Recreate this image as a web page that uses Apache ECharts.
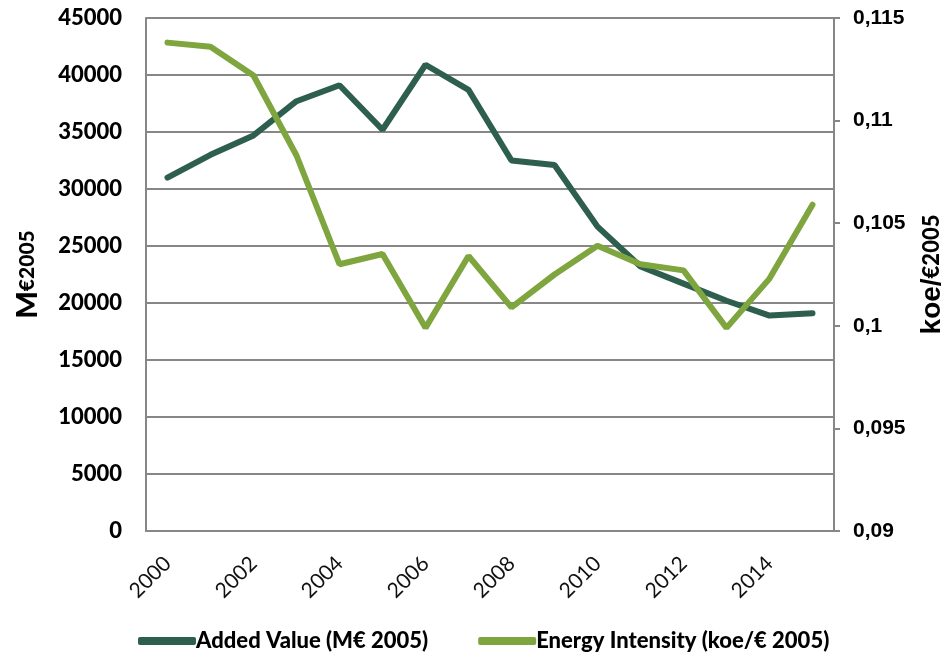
<!DOCTYPE html>
<html lang="en">
<head>
    <meta charset="utf-8"/>
    <title>Added Value and Energy Intensity</title>
    <script src="https://cdn.jsdelivr.net/npm/echarts@6/dist/echarts.min.js"></script>
</head>
<body style="margin: 0;">
<div id="chart" style="width: 943px;height:658px;"></div>

<script type="text/javascript">
    // years on the x axis
    const years = [
        '2000', '2001', '2002', '2003', '2004', '2005', '2006', '2007',
        '2008', '2009', '2010', '2011', '2012', '2013', '2014', '2015'
    ];
    // Added Value (M€ 2005), left axis
    const addedValue = [
        31000, 33000, 34700, 37700, 39100, 35200, 40900, 38700,
        32500, 32100, 26700, 23200, 21700, 20200, 18900, 19100
    ];
    // Energy Intensity (koe/€ 2005), right axis
    const energyIntensity = [
        0.1138, 0.1136, 0.1122, 0.1083, 0.1030, 0.1035, 0.0999, 0.1034,
        0.1009, 0.1025, 0.1039, 0.1030, 0.1027, 0.0999, 0.1023, 0.1059
    ];

    const gridGray = '#878787';
    const darkGreen = '#2e5e4e';
    const lightGreen = '#7ea53e';

    let chart = echarts.init(document.getElementById('chart'));
    chart.setOption({
        animation: false,
        grid: {
            left: 146,
            right: 109,
            top: 18,
            bottom: 127,
            outerBoundsMode: 'none'
        },
        legend: {
            bottom: 1,
            left: 133,
            itemGap: 50,
            itemWidth: 58,
            itemHeight: 8,
            icon: 'roundRect',
            textStyle: {
                fontFamily: 'Lato',
                fontWeight: 900,
                fontSize: 22,
                color: '#000',
                padding: [0, 0, 0, -5]
            },
            data: ['Added Value (M€ 2005)', 'Energy Intensity (koe/€ 2005)']
        },
        xAxis: {
            type: 'category',
            data: years,
            boundaryGap: true,
            axisLine: {lineStyle: {color: gridGray, width: 2}},
            axisTick: {show: false},
            axisLabel: {
                interval: 1,
                rotate: 45,
                margin: 29,
                fontFamily: 'Lato',
                fontSize: 21,
                color: '#111'
            }
        },
        yAxis: [
            {
                type: 'value',
                min: 0,
                max: 45000,
                interval: 5000,
                position: 'left',
                name: '{a|M}{b|€2005}',
                nameLocation: 'middle',
                nameRotate: 90,
                nameGap: 104,
                nameTextStyle: {
                    rich: {
                        a: {fontFamily: 'Lato', fontWeight: 900, fontSize: 29, color: '#000'},
                        b: {fontFamily: 'Lato', fontWeight: 900, fontSize: 21, color: '#000'}
                    }
                },
                axisLine: {show: true, lineStyle: {color: gridGray, width: 2}},
                axisTick: {show: false},
                splitLine: {lineStyle: {color: gridGray, width: 2}},
                axisLabel: {
                    margin: 24,
                    fontFamily: 'Lato',
                    fontWeight: 900,
                    fontSize: 22,
                    color: '#000',
                    formatter: function (v) {
                        return String(v);
                    }
                }
            },
            {
                type: 'value',
                min: 0.09,
                max: 0.115,
                interval: 0.005,
                position: 'right',
                name: '{a|koe/}{b|€2005}',
                nameLocation: 'middle',
                nameRotate: 90,
                nameGap: 84,
                nameTextStyle: {
                    rich: {
                        a: {fontFamily: 'Liberation Sans', fontWeight: 'bold', fontSize: 28, color: '#000'},
                        b: {fontFamily: 'Lato', fontWeight: 900, fontSize: 22, color: '#000'}
                    }
                },
                axisLine: {show: true, lineStyle: {color: gridGray, width: 2}},
                axisTick: {show: true, length: 6, lineStyle: {color: gridGray, width: 2}},
                splitLine: {show: false},
                axisLabel: {
                    margin: 19,
                    fontFamily: 'Liberation Sans',
                    fontWeight: 'bold',
                    fontSize: 21,
                    color: '#000',
                    formatter: function (v) {
                        return String(parseFloat(v.toFixed(3))).replace('.', ',');
                    }
                }
            }
        ],
        series: [
            {
                name: 'Added Value (M€ 2005)',
                type: 'line',
                yAxisIndex: 0,
                data: addedValue,
                showSymbol: false,
                symbol: 'none',
                color: darkGreen,
                lineStyle: {color: darkGreen, width: 6, cap: 'round'}
            },
            {
                name: 'Energy Intensity (koe/€ 2005)',
                type: 'line',
                yAxisIndex: 1,
                data: energyIntensity,
                showSymbol: false,
                symbol: 'none',
                color: lightGreen,
                lineStyle: {color: lightGreen, width: 6, cap: 'round'}
            }
        ]
    });
</script>
</body>
</html>
